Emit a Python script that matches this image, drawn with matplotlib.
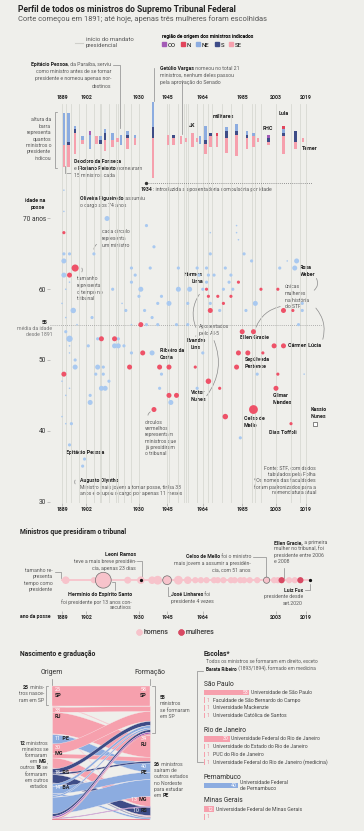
import numpy as np
import matplotlib.pyplot as plt
from matplotlib import font_manager
from matplotlib.patches import Patch
from matplotlib.lines import Line2D

# fonte estreita se existir
instaladas = {f.name for f in font_manager.fontManager.ttflist}
fonte = 'Liberation Sans Narrow' if 'Liberation Sans Narrow' in instaladas else 'Roboto'
plt.rcParams['font.family'] = [fonte, 'DejaVu Sans']

W, H = 364, 831
fundo = '#efefeb'
cinza = '#5a5a5a'
escuro = '#222222'
cores_regiao = {'CO': '#a35cb6', 'N': '#e2455b', 'NE': '#8cace0',
                'S': '#3e4c87', 'SE': '#f6a0ad'}
azul = '#a9c9f0'
vermelho = '#ee5268'
rosa_claro = '#f7c3cb'

# ---------------- dados ----------------
# mandatos presidenciais (barras) e ministros indicados por região
pres_inicio = [1889, 1891, 1894, 1898, 1902, 1906, 1909, 1910, 1914, 1918, 1919,
               1922, 1926, 1930, 1945, 1946, 1951, 1954, 1956, 1961, 1961, 1964,
               1967, 1969, 1974, 1979, 1985, 1990, 1992, 1995, 2003, 2011, 2016]
pres_fim = [1891, 1894, 1898, 1902, 1906, 1909, 1910, 1914, 1918, 1919, 1922,
            1926, 1930, 1945, 1946, 1951, 1954, 1956, 1961, 1961, 1964, 1967,
            1969, 1974, 1979, 1985, 1990, 1992, 1995, 2003, 2011, 2016, 2019]
ind_co = [0, 0, 0, 0, 1, 0, 0, 0, 0, 0, 0, 0, 0, 0, 0, 0, 0, 0, 0, 0, 0, 0, 0, 0, 0, 0, 0, 0, 0, 1, 0, 0, 0]
ind_n = [0, 0, 0, 0, 0, 0, 0, 0, 0, 0, 0, 0, 0, 0, 0, 0, 0, 0, 0, 0, 0, 0, 0, 1, 0, 0, 0, 0, 0, 0, 1, 0, 0]
ind_ne = [9, 8, 1, 1, 4, 0, 1, 1, 2, 0, 3, 1, 1, 7, 0, 0, 0, 0, 0, 0, 2, 4, 0, 0, 1, 2, 1, 1, 0, 0, 1, 0, 0]
ind_s = [0, 1, 1, 0, 0, 0, 1, 2, 0, 0, 0, 1, 0, 3, 0, 1, 0, 0, 0, 0, 0, 1, 1, 0, 2, 1, 1, 0, 0, 1, 1, 3, 0]
ind_se = [6, 6, 6, 1, 0, 2, 0, 3, 2, 1, 0, 3, 2, 11, 3, 2, 2, 1, 4, 1, 0, 3, 3, 3, 4, 6, 3, 3, 1, 1, 5, 2, 1]
inicio_mandatos = pres_inicio + [1955, 2019]

# ministros que nunca presidiram: ano da posse, idade, anos no STF
az_ano = [1890, 1890, 1913, 1934, 1890, 1893, 1906, 1938, 1890, 1890,
          1926, 1936, 1928, 1951, 1893, 1926, 1891, 1916, 1931, 1951,
          1930, 1942, 1889, 1921, 1940, 1946, 1895, 1923, 1933, 1891,
          1905, 1937, 1897, 1926, 1934, 1940, 1950, 1891, 1893, 1908,
          1919, 1893, 1903, 1917, 1919, 1922, 1893, 1926, 1937, 1896,
          1896, 1908, 1911, 1889, 1907, 1911, 1942, 1914, 1893, 1910,
          1912, 1941, 1891, 1904, 1904, 1947, 1889, 1891, 1894, 1893,
          1901, 1900,
          1968, 1982, 1983, 1982, 1968, 1986, 1990, 2009, 2014, 1961,
          1966, 1976, 2005, 2013, 1962, 1967, 1970, 1979, 1966, 1978,
          1957, 1964, 1975, 1980, 1956, 1968, 1992, 2017, 2017, 1973,
          1987, 1956, 2015, 1964, 1993, 2018, 1961, 1984]
az_idade = [74, 71, 70, 69, 65, 65, 65, 66, 64, 62,
            63, 63, 62, 63, 61, 61, 60, 60, 60, 60,
            59, 59, 58, 58, 58, 58, 57, 57, 57, 56,
            56, 56, 55, 55, 55, 55, 55, 54, 53, 53,
            53, 52, 52, 52, 52, 52, 51, 51, 51, 50,
            49, 49, 49, 47, 48, 48, 48, 47, 46, 46,
            46, 46, 45, 45, 44, 44, 42, 41, 41, 38,
            36, 35,
            68, 68, 67, 69, 65, 65, 64, 64, 64, 63,
            63, 63, 63, 63, 62, 62, 62, 62, 61, 61,
            60, 60, 60, 60, 58, 58, 58, 58, 57, 57,
            57, 55, 55, 51, 48, 48, 46, 39]
az_tempo = [1, 1, 10, 4, 4, 4, 4, 4, 10, 10,
            4, 4, 4, 4, 1, 4, 1, 4, 10, 10,
            4, 4, 1, 1, 4, 10, 12, 4, 4, 1,
            4, 4, 1, 1, 4, 4, 4, 4, 16, 4,
            4, 1, 4, 10, 10, 4, 1, 4, 10, 4,
            10, 10, 4, 1, 4, 4, 4, 4, 1, 10,
            10, 4, 1, 4, 10, 10, 1, 1, 4, 4,
            4, 4,
            1, 1, 1, 1, 4, 4, 4, 1, 10, 4,
            4, 4, 4, 10, 4, 4, 4, 4, 4, 4,
            10, 4, 4, 4, 4, 4, 10, 4, 4, 4,
            4, 4, 4, 4, 4, 1, 4, 4]

# ministros que presidiram o tribunal
vm_ano = [1890, 1896, 1893, 1931, 1910, 1917, 1932, 1890, 1925, 1941,
          1946, 1946, 1950, 1938, 1983, 1966, 1995, 2004, 1967, 1972,
          1979, 1975, 2007, 2012, 1968, 1985, 1991, 2002, 2007, 1983,
          1988, 1996, 1960, 1982, 2004, 1967, 1973, 2003, 1976, 1991, 2011]
vm_idade = [68, 63, 62, 55, 53, 53, 51, 48, 49, 49,
            49, 45, 45, 43, 61, 60, 60, 60, 59, 59,
            59, 58, 57, 57, 57, 54, 54, 52, 52, 51,
            51, 51, 49, 49, 48, 47, 46, 46, 42, 43, 41]
vm_tempo = [4, 20, 10, 10, 10, 10, 10, 10, 10, 10,
            10, 10, 10, 10, 4, 4, 4, 4, 4, 4,
            4, 4, 10, 4, 10, 10, 10, 10, 10, 10,
            10, 4, 4, 10, 4, 12, 4, 10, 12, 31, 4]
kassio_ano, kassio_idade = 2024, 41

# presidentes do STF: ano da posse, anos na presidência, mulher?
stf_ano = [1891, 1906, 1911, 1924, 1931, 1937, 1940, 1945, 1951, 1956,
           1960, 1963, 1966, 1970, 1972, 1975, 1979, 1981, 1984, 1986,
           1989, 1993, 1998, 2002, 2004, 2006, 2010, 2013, 2016]
stf_anos = [3, 2, 13, 2.5, 3, 3, 4, 4, 4, 3,
            2, 2, 2, 2, 2, 2, 2, 2, 2, 2,
            2, 2, 2, 2, 2, 2, 2, 2, 2]
stf_mulher = [0, 0, 0, 0, 0, 0, 0, 0, 0, 0,
              0, 0, 0, 0, 0, 0, 0, 0, 0, 0,
              0, 0, 0, 0, 0, 1, 0, 0, 1]
destaque = [1911, 1945, 1998]
leoni_ano, fux_ano = 1931, 2021

# nascimento x formação
origem_uf = ['SP', 'RJ', 'PE', 'MG', 'RS', 'BA', 'outros NE', 'outros S', 'CO', 'N']
origem_regiao = ['SE', 'SE', 'NE', 'SE', 'S', 'NE', 'NE', 'S', 'CO', 'N']
formacao_uf = ['SP', 'RJ', 'PE', 'MG', 'RS', 'outros']
fluxo = np.array([
    [24, 1, 0, 0, 0, 0],
    [6, 26, 0, 0, 0, 1],
    [0, 0, 11, 0, 0, 0],
    [12, 5, 0, 12, 0, 1],
    [5, 2, 0, 0, 10, 1],
    [3, 0, 9, 0, 0, 2],
    [2, 0, 20, 0, 0, 0],
    [3, 0, 0, 0, 0, 0],
    [2, 0, 0, 1, 0, 0],
    [1, 0, 0, 0, 0, 1],
])

# escolas
escola_estado = ['São Paulo'] * 4 + ['Rio de Janeiro'] * 4 + ['Pernambuco'] + ['Minas Gerais'] * 2
escola_nome = ['Universidade de São Paulo', 'Faculdade de São Bernardo do Campo',
               'Universidade Mackenzie', 'Universidade Católica de Santos',
               'Universidade Federal do Rio de Janeiro', 'Universidade do Estado do Rio de Janeiro',
               'PUC do Rio de Janeiro', 'Universidade Federal do Rio de Janeiro (medicina)',
               'Universidade Federal\nde Pernambuco',
               'Universidade Federal de Minas Gerais', '']
escola_n = [53, 1, 1, 1, 30, 1, 1, 1, 40, 12, 1]
estado_cor = {'São Paulo': cores_regiao['SE'], 'Rio de Janeiro': cores_regiao['SE'],
              'Pernambuco': cores_regiao['NE'], 'Minas Gerais': cores_regiao['SE']}

anos_ticks = [1889, 1902, 1930, 1945, 1964, 1985, 2003, 2019]

# ---------------- figura ----------------
fig = plt.figure(figsize=(W / 100, H / 100), dpi=100)
fig.patch.set_facecolor(fundo)
renderer = fig.canvas.get_renderer()

# calibra o tamanho da fonte pela largura de uma linha de nota (~100 px)
tmp = fig.text(0, 0, 'Ministro mais jovem a tomar posse, tinha 33', fontsize=3.9)
k = 100 / tmp.get_window_extent(renderer).width
tmp.remove()

base = fig.add_axes([0, 0, 1, 1])
base.set_xlim(0, W)
base.set_ylim(H, 0)
base.axis('off')


def eixo(x0, y0, x1, y1):
    ax = fig.add_axes([x0 / W, 1 - y1 / H, (x1 - x0) / W, (y1 - y0) / H])
    ax.set_facecolor('none')
    return ax


def ajusta(t, largura):
    w = t.get_window_extent(renderer).width
    t.set_fontsize(t.get_fontsize() * largura / w)


def ano_px(p):
    return 1889 + (p - 62) / 1.877


def idade_px(p):
    return 70 - (p - 218.5) / 7.075


def rico(x, y, partes, size=3.9, ha='left', cor=cinza):
    # uma linha com trechos em negrito
    if ha == 'right':
        partes = partes[::-1]
    t = None
    for s, neg in partes:
        kw = dict(fontsize=size * k, color=escuro if neg else cor,
                  fontweight='bold' if neg else 'normal')
        if t is None:
            t = base.text(x, y, s, ha=ha, va='top', **kw)
        else:
            t = base.annotate(s, xy=(1, 0) if ha == 'left' else (0, 0), xycoords=t,
                              ha=ha, va='bottom', **kw)
    return t


def bloco(x, y, linhas, dy=7.2, size=3.9, ha='left', cor=cinza):
    for i, l in enumerate(linhas):
        partes = l if isinstance(l, list) else [(l, False)]
        rico(x, y + i * dy, partes, size, ha, cor)


def negrito(x, y, s, size=4.1, ha='left', dy=6.8):
    bloco(x, y, [[(l, True)] for l in s.split('\n')], dy, size, ha)


def guia(xs, ys):
    base.plot(xs, ys, color='#8a8a8a', lw=0.5)


def curva(x0, y0, x1, y1, rad=0.3):
    base.annotate('', xy=(x1, y1), xytext=(x0, y0),
                  arrowprops=dict(arrowstyle='-', color='#8a8a8a', lw=0.5,
                                  connectionstyle=f'arc3,rad={rad}'))


# títulos
t = base.text(18, 4.5, 'Perfil de todos os ministros do Supremo Tribunal Federal',
              fontsize=7, fontweight='bold', color=escuro, va='top')
ajusta(t, 220)
t = base.text(18, 15.5, 'Corte começou em 1891; até hoje, apenas três mulheres foram escolhidas',
              fontsize=6, color='#555555', va='top')
ajusta(t, 249)

# legendas do topo
leg1 = base.legend(handles=[Line2D([], [], color='#cfcfca', lw=0.8)],
                   labels=['início do mandato\npresidencial'], loc='upper left',
                   bbox_to_anchor=(70 / W, 1 - 32 / H), frameon=False,
                   fontsize=4.6 * k, handlelength=1.2, handletextpad=0.5,
                   labelcolor='#555555')
base.add_artist(leg1)
leg2 = base.legend(handles=[Patch(color=cores_regiao[r]) for r in cores_regiao],
                   labels=list(cores_regiao), loc='upper left', ncol=5,
                   bbox_to_anchor=(157 / W, 1 - 29 / H), frameon=False,
                   fontsize=4.6 * k, handlelength=0.6, handleheight=0.6,
                   handletextpad=0.3, columnspacing=0.9,
                   title='região de origem dos ministros indicados',
                   title_fontsize=3.8 * k, alignment='left')
leg2.get_title().set_fontweight('bold')
base.add_artist(leg2)

# ---------------- dispersão principal ----------------
ax = eixo(50, 104, 322, 503)
ax.set_xlim(ano_px(50), ano_px(322))
ax.set_ylim(idade_px(503), idade_px(104))
for a in inicio_mandatos:
    ax.axvline(a, color='#d8d9d3', lw=0.6, zorder=0)
ax.axhline(55, color='#9a9a9a', lw=0.6, ls=(0, (1, 1.5)), zorder=1)
ax.plot([1934, 2022], [75, 75], color='#777777', lw=0.6, ls=(0, (1, 1.5)))
ax.scatter([1934], [75], s=2, color='#333333', zorder=3)
ax.scatter(az_ano, az_idade, s=np.array(az_tempo) * 1.3, color=azul, lw=0, zorder=3)
ax.scatter(vm_ano, vm_idade, s=np.array(vm_tempo) * 1.3, color=vermelho, lw=0, zorder=4)
ax.scatter([kassio_ano], [kassio_idade], marker='s', s=9, facecolor='white',
           edgecolor='#555555', lw=0.5, zorder=4)
for sp in ax.spines.values():
    sp.set_visible(False)
ax.set_yticks([30, 40, 50, 60, 70])
ax.set_yticklabels(['30', '40', '50', '60', '70 anos'])
ax.set_xticks(anos_ticks)
ax.tick_params(axis='y', length=2, width=0.4, color='#999999', labelsize=5 * k,
               labelcolor='#333333', pad=1)
ax.tick_params(axis='x', length=2, width=0.4, color='#999999', labelsize=3.9 * k,
               labelcolor=escuro, pad=1, top=False, labeltop=True)
for lb in ax.get_xticklabels():
    lb.set_fontweight('bold')

# barras de indicações, centradas
axb = eixo(50, 100, 322, 180)
axb.set_xlim(ano_px(50), ano_px(322))
axb.set_ylim(-11.1, 11.1)
axb.axis('off')
meio = (np.array(pres_inicio) + np.array(pres_fim)) / 2
total = np.array(ind_co) + np.array(ind_n) + np.array(ind_ne) + np.array(ind_s) + np.array(ind_se)
fundo_barra = -total / 2
for reg, vals in [('SE', ind_se), ('S', ind_s), ('NE', ind_ne), ('N', ind_n), ('CO', ind_co)]:
    vals = np.array(vals)
    axb.bar(meio, vals, width=1.35, bottom=fundo_barra, color=cores_regiao[reg], lw=0)
    fundo_barra = fundo_barra + vals

# anotações das barras
bloco(111, 62, [[('Epitácio Pessoa', True), (', da Paraíba, serviu', False)],
                'como ministro antes de se tornar', 'presidente e nomeou apenas nor-',
                'destinos'], ha='right')
guia([113, 120, 120], [65, 65, 128])
bloco(160, 66, [[('Getúlio Vargas', True), (' nomeou no total 21', False)],
                'ministros, nenhum deles passou', 'pela aprovação do Senado'])
guia([154, 154], [68, 101])
guia([182, 182], [80, 134])
bloco(51, 117, ['altura da', 'barra', 'representa', 'quantos', 'ministros o',
                'presidente', 'indicou'], dy=6.5, ha='right')
guia([57, 55, 55, 57], [112, 112, 168, 168])
bloco(74, 159, [[('Deodoro da Fonseca', True)],
                [('e ', False), ('Floriano Peixoto', True), (' nomearam', False)],
                '15 ministros cada'])
guia([65, 65, 71], [166, 173, 173])
negrito(189, 123, 'JK')
negrito(213, 114, 'militares')
negrito(263, 126, 'FHC')
negrito(279, 111, 'Lula')
negrito(302, 146, 'Temer')
rico(141, 187, [('1934', True), (': introduzida a aposentadoria compulsória por idade', False)])

# anotações da dispersão
negrito(45, 198, 'idade na\nposse', ha='right')
bloco(80, 196, [[('Oliveira Figueiredo', True), (' assumiu', False)], 'o cargo aos 74 anos'])
bloco(102, 229, ['cada círculo', 'representa', 'um ministro'], dy=6.8)
curva(99, 243, 94, 252, 0.4)
bloco(77, 276, ['tamanho', 'representa', 'o tempo no', 'tribunal'], dy=6.8)
curva(80, 266, 80, 274, -0.6)
negrito(203, 272, 'Hermes\nLima', ha='right')
negrito(300, 265, 'Rosa\nWeber')
curva(315, 276, 312, 292, -0.5)
bloco(285, 284, ['únicas', 'mulheres', 'na história', 'do STF'], dy=6.8)
curva(283, 306, 255, 330, 0.3)
curva(314, 306, 322, 342, -0.3)
rico(47, 320, [('55', True)], ha='right')
bloco(52, 326, ['média da idade', 'desde 1891'], dy=6.3, ha='right', cor='#777777')
bloco(199, 324, ['Aposentados', 'pelo AI-5'], dy=6.8)
curva(197, 330, 201, 292, -0.3)
curva(198, 334, 195, 339, 0.3)
curva(213, 338, 205, 398, -0.3)
negrito(196, 338, 'Evandro\nLins', ha='center')
negrito(240, 335, 'Ellen Gracie')
negrito(160, 348, 'Ribeiro da\nCosta')
negrito(288, 343, 'Cármen Lúcia')
negrito(245, 357, 'Sepúlveda\nPertence')
negrito(198, 390, 'Victor\nNunes', ha='center')
negrito(273, 393, 'Gilmar\nMendes')
negrito(244, 416, 'Celso de\nMello')
negrito(311, 407, 'Kassio\nNunes')
negrito(269, 430, 'Dias Toffoli')
bloco(145, 420, ['círculos', 'vermelhos', 'representam', 'ministros que', 'já presidiram',
                 'o tribunal'], dy=6.2)
curva(148, 418, 153, 411, -0.5)
negrito(66, 450, 'Epitácio Pessoa')
bloco(80, 478, [[('Augusto Olyntho', True)],
                'Ministro mais jovem a tomar posse, tinha 33',
                'anos e ocupou o cargo por apenas 11 meses'], dy=6.6)
curva(77, 478, 77, 486, 0.6)
bloco(316, 466, ['Fonte: STF, com dados', 'tabulados pela Folha',
                 '*Os nomes das faculdades', 'foram padronizados para a',
                 'nomenclatura atual'], dy=6.0, ha='right')

# ---------------- presidentes do STF ----------------
t = base.text(20, 528, 'Ministros que presidiram o tribunal', fontsize=5,
              fontweight='bold', color=escuro, va='top')
ajusta(t, 107)
tam_secao = t.get_fontsize()
axt = eixo(50, 555, 322, 611)
axt.set_xlim(ano_px(50), ano_px(322))
axt.set_ylim(-1, 1)
axt.plot([1889, fux_ano], [0.1, 0.1], color=rosa_claro, lw=1.3, zorder=1)
cores_stf = ['#d84a63' if m else rosa_claro for m in stf_mulher]
axt.scatter(stf_ano, np.full(len(stf_ano), 0.1), s=np.array(stf_anos) * 10,
            color=cores_stf, lw=0, zorder=2)
dest = [i for i, a in enumerate(stf_ano) if a in destaque]
axt.scatter(np.array(stf_ano)[dest], np.full(len(dest), 0.1),
            s=np.array(stf_anos)[dest] * 10, facecolor='none', edgecolor='#6d6d6d',
            lw=0.5, zorder=3)
axt.scatter([leoni_ano, fux_ano], [0.1, 0.1], s=1.8, color='#111111', zorder=4)
for sp in axt.spines.values():
    sp.set_visible(False)
axt.set_yticks([])
axt.set_xticks([a for a in anos_ticks if a != 1985])
axt.tick_params(axis='x', length=2, width=0.4, color='#999999', labelsize=3.9 * k,
                labelcolor=escuro, pad=1)
for lb in axt.get_xticklabels():
    lb.set_fontweight('bold')
rico(20, 614, [('ano da posse', True)])

negrito(136, 552, 'Leoni Ramos', ha='right')
bloco(136, 559, ['teve a mais breve presidên-', 'cia, apenas 23 dias'], ha='right')
guia([137, 141.5, 141.5], [561, 561, 579])
bloco(53, 568, ['tamanho re-', 'presenta', 'tempo como', 'presidente'], dy=6.4, ha='right')
guia([55, 61, 61], [572, 572, 578])
negrito(132, 592, 'Hermínio do Espírito Santo', ha='right')
bloco(132, 599, ['foi presidente por 13 anos con-', 'secutivos'], dy=6.4, ha='right')
guia([112, 115, 115], [582, 582, 590])
bloco(251, 554, [[('Celso de Mello', True), (' foi o ministro', False)],
                 'mais jovem a assumir a presidên-', 'cia, com 51 anos'], dy=6.6, ha='right')
guia([253, 266, 266], [557, 557, 578])
bloco(171, 592, [[('José Linhares', True), (' foi', False)], 'presidente 4 vezes'], dy=6.6)
guia([168, 168, 170], [587, 596, 596])
bloco(274, 540, [[('Ellen Gracie,', True), (' a primeira', False)], 'mulher no tribunal, foi',
                 'presidente entre 2006', 'e 2008'], dy=6.3)
guia([283.5, 283.5], [568, 578])
bloco(303, 588, [[('Luiz Fux', True)], 'presidente desde', 'set.2020'], dy=6.3, ha='right')
guia([310, 310, 305], [584, 590, 590])

leg3 = base.legend(handles=[Line2D([], [], marker='o', ls='', color=rosa_claro, ms=3.5),
                            Line2D([], [], marker='o', ls='', color='#d84a63', ms=3.5)],
                   labels=['homens', 'mulheres'], loc='upper left', ncol=2,
                   bbox_to_anchor=(130 / W, 1 - 623 / H), frameon=False,
                   fontsize=5.2 * k, handlelength=0.8, handletextpad=0.3,
                   columnspacing=1.4, labelcolor='#555555')
base.add_artist(leg3)

# ---------------- nascimento e graduação ----------------
base.text(20, 650, 'Nascimento e graduação', fontsize=tam_secao, fontweight='bold',
          color=escuro, va='top')
base.text(52, 669, 'Origem', fontsize=5.2 * k, color='#333333', va='top', ha='center')
base.text(150, 669, 'Formação', fontsize=5.2 * k, color='#333333', va='top', ha='center')
guia([52, 52], [679, 685])
guia([150, 150], [679, 685])

axs = eixo(52, 686, 150, 820)
axs.set_xlim(0, 1)
axs.set_ylim(fluxo.sum(), 0)
axs.axis('off')
tot_o = fluxo.sum(axis=1)
tot_f = fluxo.sum(axis=0)
ini_o = np.concatenate([[0], np.cumsum(tot_o)[:-1]])
ini_f = np.concatenate([[0], np.cumsum(tot_f)[:-1]])
off_o = ini_o.astype(float)
off_f = ini_f.astype(float)
xs = np.linspace(0, 1, 80)
suave = 3 * xs ** 2 - 2 * xs ** 3
for i in range(len(origem_uf)):
    for j in range(len(formacao_uf)):
        f = fluxo[i, j]
        if f == 0:
            continue
        topo = off_o[i] + (off_f[j] - off_o[i]) * suave
        axs.fill_between(xs, topo, topo + f, color=cores_regiao[origem_regiao[i]],
                         edgecolor='#f6eef0', lw=0.25)
        off_o[i] += f
        off_f[j] += f


def rotulo_uf(x, y, n, uf, ha, duas_linhas):
    kw = dict(fontsize=4.1 * k, va='top')
    if duas_linhas:
        axs.text(x, y, str(n), color='white', ha=ha, **kw)
        axs.text(x, y + 7.5, uf, color=escuro, ha=ha, fontweight='bold', **kw)
    elif ha == 'left':
        t = axs.text(x, y, str(n), color='white', ha=ha, **kw)
        axs.annotate(' ' + uf, xy=(1, 0), xycoords=t, va='bottom', color=escuro,
                     fontweight='bold', fontsize=4.1 * k)
    else:
        t = axs.text(x, y, uf, color=escuro, ha=ha, fontweight='bold', **kw)
        axs.annotate(str(n) + ' ', xy=(0, 0), xycoords=t, va='bottom', ha='right',
                     color='white', fontsize=4.1 * k)


for i in range(6):
    rotulo_uf(0.03, ini_o[i] + 1.5, tot_o[i], origem_uf[i], 'left', tot_o[i] >= 20)
for j in range(5):
    rotulo_uf(0.97, ini_f[j] + 1.5, tot_f[j], formacao_uf[j], 'right', tot_f[j] >= 20)

bloco(44, 685, [[('25', True), (' minis-', False)], 'tros nasce-', 'ram em SP'], dy=6.3, ha='right')
guia([48, 46, 46, 48], [686, 686, 705, 705])
bloco(160, 695, [[('58', True)], 'ministros', 'se formaram', 'em SP'], dy=6.3)
guia([152, 155, 155, 152], [686, 686, 733, 733])
bloco(48, 741, [[('12', True), (' ministros', False)], 'mineiros se', 'formaram',
                [('em ', False), ('MG', True), (',', False)],
                [('outros ', False), ('18', True), (' se', False)], 'formaram',
                'em outros', 'estados'], dy=6.1, ha='right')
bloco(154, 762, [[('26', True), (' ministros', False)], 'saíram de', 'outros estados',
                 'no Nordeste', 'para estudar', [('em ', False), ('PE', True)]], dy=6.2)

# ---------------- escolas ----------------
base.text(204, 650, 'Escolas*', fontsize=tam_secao, fontweight='bold', color=escuro, va='top')
bloco(206, 660, ['Todos os ministros se formaram em direito, exceto',
                 [('Barata Ribeiro', True), (' (1893/1894), formado em medicina', False)]],
      dy=7.0, size=3.7)
guia([203, 197, 197, 203], [671, 671, 762, 762])

axe = eixo(204, 676, 364, 831)
axe.set_xlim(0, 160 / 0.85)
axe.set_ylim(19.05, -1.08)
axe.axis('off')
pos = 0.0
for est in dict.fromkeys(escola_estado):
    axe.text(0, pos, est, fontsize=5.1 * k, va='center', color='#2a2a2a')
    pos += 1.05
    for e, nome, n in zip(escola_estado, escola_nome, escola_n):
        if e != est:
            continue
        axe.barh(pos, n, height=0.72, color=estado_cor[est], lw=0)
        if n > 1:
            axe.text(n - 1, pos, str(n), color='white', ha='right', va='center',
                     fontsize=3.9 * k)
            axe.text(n + 2, pos, nome, va='center', fontsize=3.9 * k, color='#444444',
                     linespacing=1.1)
        else:
            axe.text(3.5, pos, '1', va='center', fontsize=3.9 * k, color='#e58a98')
            axe.text(11, pos, nome, va='center', fontsize=3.9 * k, color='#444444')
        pos += 1
    pos += 1

fig.savefig('out.png', dpi=100, facecolor=fundo)
